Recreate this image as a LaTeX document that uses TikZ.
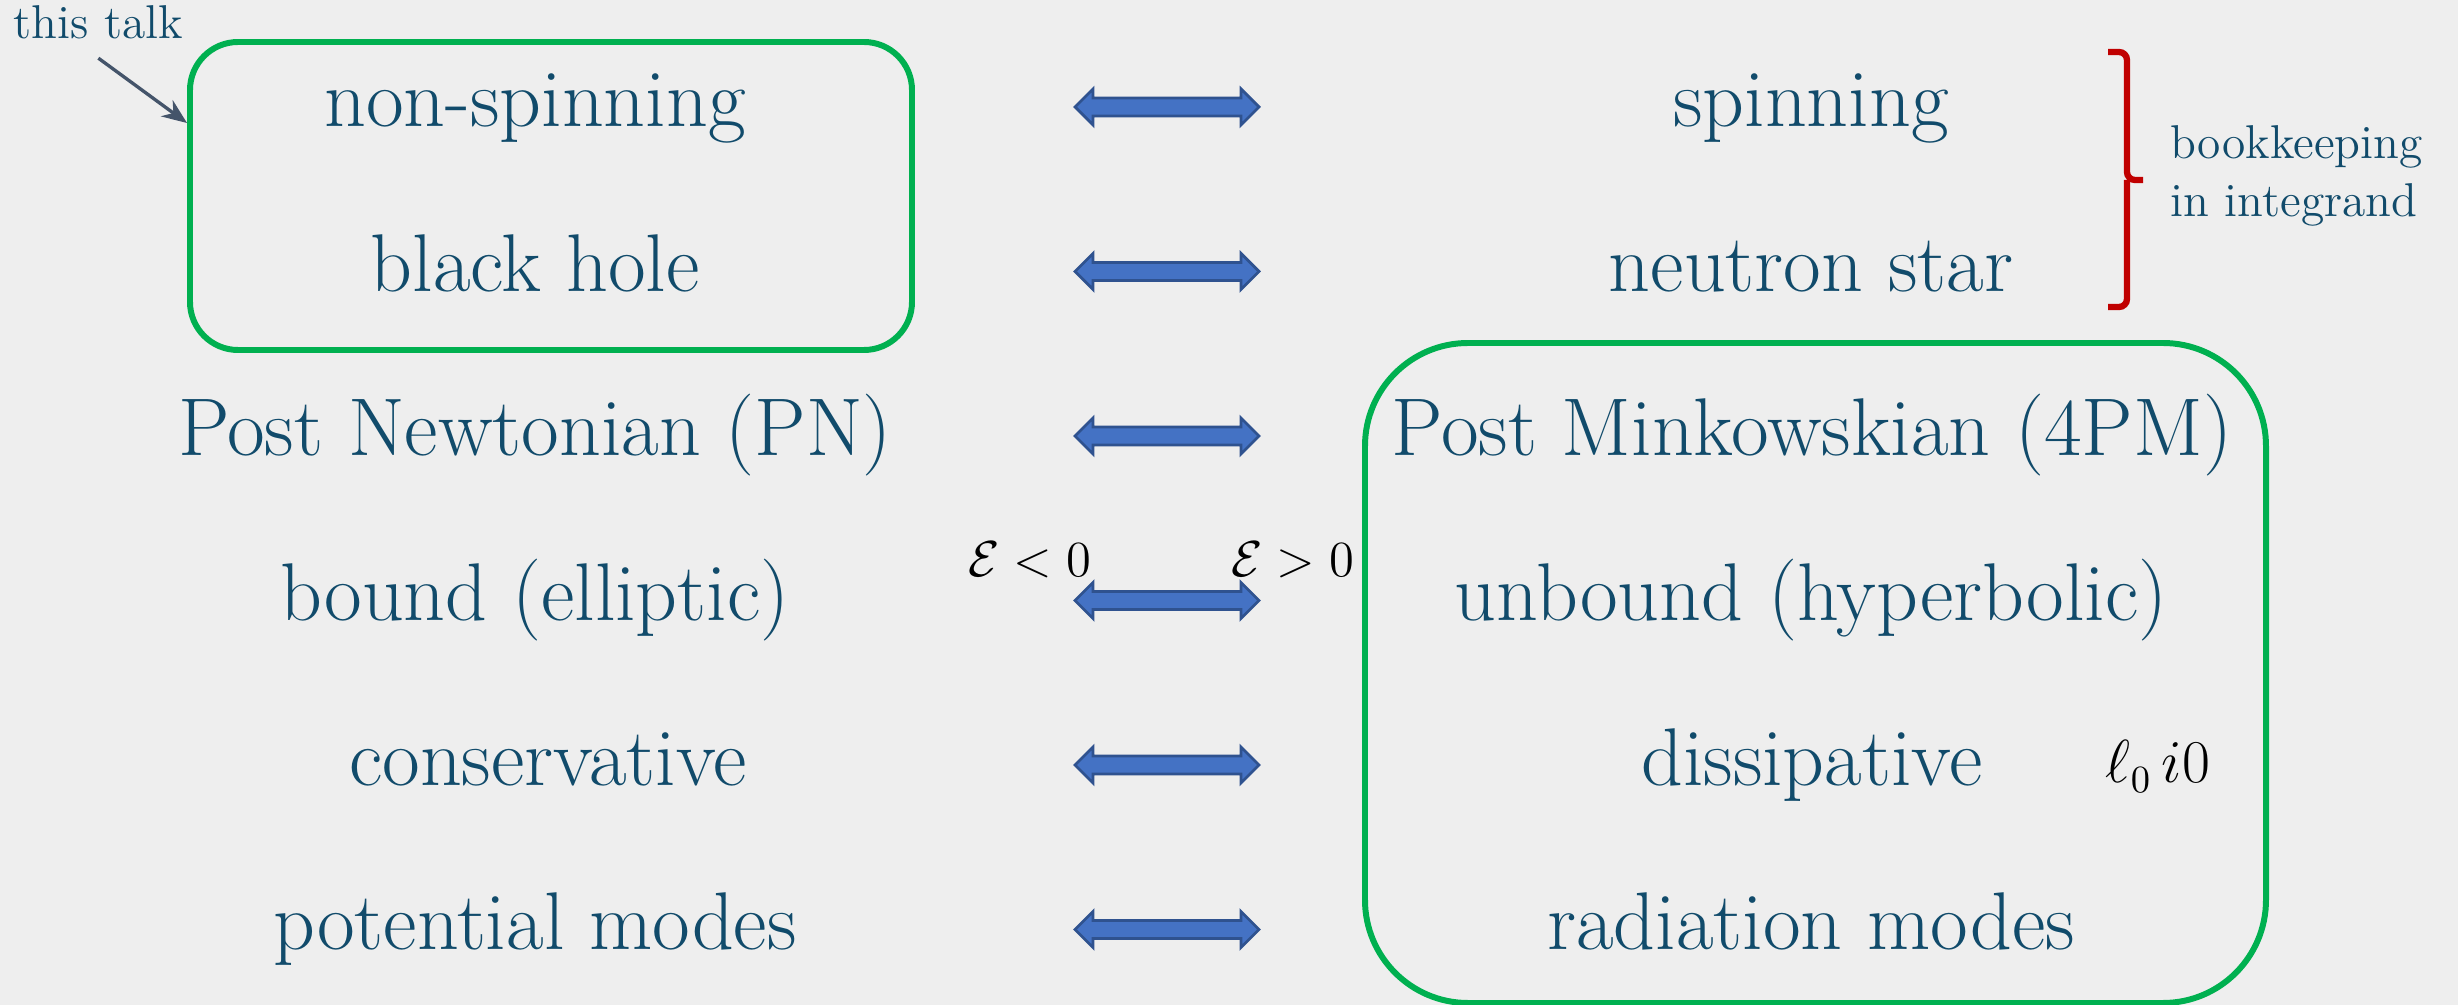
\documentclass[tikz,border=0pt]{standalone}
\usetikzlibrary{arrows.meta}

\definecolor{fondo}{HTML}{EEEEEE}
\definecolor{txtazul}{HTML}{114B6B}
\definecolor{rellenoazul}{HTML}{4472C4}
\definecolor{bordeazul}{HTML}{2F528F}
\definecolor{verde}{HTML}{00B050}
\definecolor{rojo}{HTML}{C00000}
\definecolor{grisflecha}{HTML}{44546A}

% Flecha doble centrada en un punto
\newcommand{\dobleflecha}[1]{%
    \draw[flecha] (#1) ++(-0.92,0) -- ++(0.18,0.18) -- ++(0,-0.09) -- ++(1.48,0)
        -- ++(0,0.09) -- ++(0.18,-0.18) -- ++(-0.18,-0.18) -- ++(0,0.09)
        -- ++(-1.48,0) -- ++(0,-0.09) -- cycle;}

\begin{document}
\begin{tikzpicture}[
    lado/.style={anchor=base, text=txtazul, inner sep=0pt, font=\fontsize{23.3}{28}\selectfont},
    nota/.style={text=txtazul, inner sep=0pt, font=\fontsize{13.5}{16.4}\selectfont},
    flecha/.style={draw=bordeazul, fill=rellenoazul, line width=0.8pt, line join=miter},
    caja/.style={draw=verde, line width=1.7pt, inner sep=0pt},
    formula/.style={anchor=base, inner sep=0pt, font=\fontsize{15.5}{19}\selectfont}
]
    % Fondo y tamaño fijo de la figura
    \fill[fondo] (0,0) rectangle (24.58,-10.05);
    \useasboundingbox (0,0) rectangle (24.58,-10.05);

    % Columna izquierda
    \node[lado] (nonspin) at (5.35,-1.27)  {non-spinning};
    \node[lado] (bh)      at (5.35,-2.915) {black hole};
    \node[lado] (pn)      at (5.35,-4.56)  {Post Newtonian (PN)};
    \node[lado] (bound)   at (5.35,-6.205) {bound (elliptic)};
    \node[lado] (cons)    at (5.48,-7.85)  {conservative};
    \node[lado] (pot)     at (5.35,-9.495) {potential modes};

    % Columna derecha
    \node[lado] (spin)    at (18.11,-1.27)  {spinning};
    \node[lado] (ns)      at (18.11,-2.915) {neutron star};
    \node[lado] (pm)      at (18.12,-4.56)  {Post Minkowskian (4PM)};
    \node[lado] (unbound) at (18.11,-6.205) {unbound (hyperbolic)};
    \node[lado] (diss)    at (18.12,-7.85)  {dissipative};
    \node[lado] (rad)     at (18.11,-9.495) {radiation modes};

    % Flechas dobles entre las dos columnas
    \coordinate (f1) at (11.67,-1.07);
    \coordinate (f2) at (11.67,-2.715);
    \coordinate (f3) at (11.67,-4.36);
    \coordinate (f4) at (11.67,-6.005);
    \coordinate (f5) at (11.67,-7.65);
    \coordinate (f6) at (11.67,-9.295);
    \dobleflecha{f1}
    \dobleflecha{f2}
    \dobleflecha{f3}
    \dobleflecha{f4}
    \dobleflecha{f5}
    \dobleflecha{f6}

    % Signo de la energia
    \node[formula] (eneg) at (10.30,-5.77) {$\mathcal{E}<0$};
    \node[formula] (epos) at (12.93,-5.77) {$\mathcal{E}>0$};
    \node[formula, font=\fontsize{16}{19}\selectfont] (lcero) at (21.58,-7.83) {$\ell_0\, i0$};

    % Recuadros verdes
    \node[caja, rounded corners=0.48cm, minimum width=7.22cm, minimum height=3.08cm]
        (talkbox) at (5.51,-1.96) {};
    \node[caja, rounded corners=1.03cm, minimum width=9.01cm, minimum height=6.60cm]
        (pmbox) at (18.155,-6.73) {};

    % Indicacion de la charla
    \node[nota, anchor=base west] (talk) at (0.13,-0.39) {this talk};
    \draw[grisflecha, line width=0.95pt, -{Stealth[length=0.25cm, width=0.2cm]}]
        ([yshift=-0.18cm]talk.south) -- ([yshift=-0.84cm]talkbox.north west);

    % Llave roja y comentario
    \draw[rojo, line width=1.8pt, rounded corners=0.08cm]
        (21.08,-0.52) -- (21.27,-0.52) -- (21.27,-1.80) -- (21.43,-1.80);
    \draw[rojo, line width=1.8pt, rounded corners=0.08cm]
        (21.08,-3.07) -- (21.27,-3.07) -- (21.27,-1.80);
    \node[nota, anchor=west, align=left] (libro) at (21.70,-1.76) {bookkeeping\\in integrand};
\end{tikzpicture}
\end{document}
